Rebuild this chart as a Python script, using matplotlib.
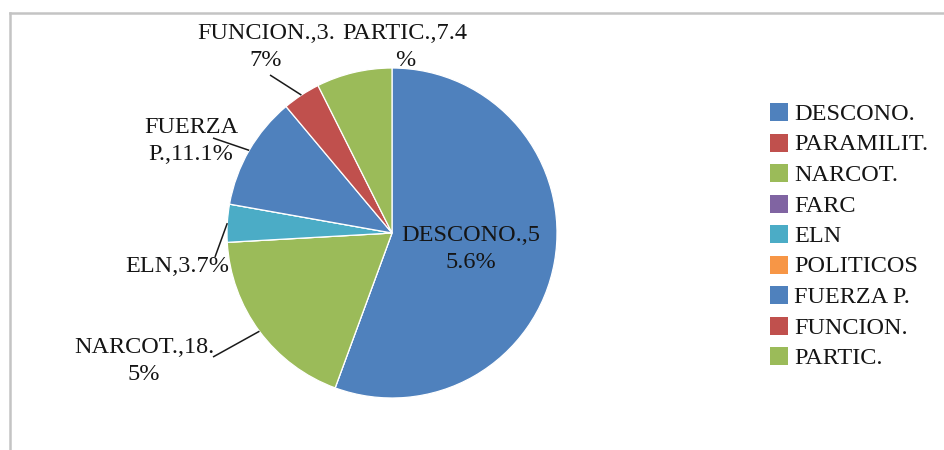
import matplotlib
matplotlib.use("Agg")
import matplotlib.pyplot as plt
from matplotlib.lines import Line2D
from matplotlib.patches import Rectangle
import numpy as np

# ---- data ----
categories = ["DESCONO.", "PARAMILIT.", "NARCOT.", "FARC", "ELN",
              "POLITICOS", "FUERZA P.", "FUNCION.", "PARTIC."]
values = [55.6, 0.0, 18.5, 0.0, 3.7, 0.0, 11.1, 3.7, 7.4]
colors = ["#4F81BD", "#C0504D", "#9BBB59", "#8064A2", "#4BACC6",
          "#F79646", "#4F81BD", "#C0504D", "#9BBB59"]

# ---- layout (pixels, y measured from top) ----
W, H = 945, 450
CX, CY, R = 392, 233, 165
# label: (category index, split position, text centre, leader anchor or None)
label_layout = [
    (0, 10, (471, 249), None),
    (2, 11, (144, 361), (213, 357)),
    (4, None, (177, 267), (215, 257)),
    (6, "space", (191, 141), (213, 138)),
    (7, 11, (266, 47), (270, 75)),
    (8, 11, (405, 47), None),
]

plt.rcParams["font.family"] = ["Liberation Serif", "DejaVu Serif"]
FS = 17.5
TXT = "#151515"

fig = plt.figure(figsize=(W / 100, H / 100), dpi=100)
ax = fig.add_axes([0, 0, 1, 1])

def fy(y):
    return H - y

wedges, _ = ax.pie(values, colors=colors, startangle=90, counterclock=False,
                   center=(CX, fy(CY)), radius=R, frame=True,
                   wedgeprops=dict(edgecolor="white", linewidth=0.9))
ax.set_xlim(0, W)
ax.set_ylim(0, H)
ax.set_aspect("auto")
ax.axis("off")

# data labels
total = sum(values)
for idx, split, (tx, ty), anchor in label_layout:
    txt = f"{categories[idx]},{values[idx] / total * 100:.1f}%"
    if split == "space":
        txt = txt.replace(" ", "\n", 1)
    elif split is not None:
        txt = txt[:split] + "\n" + txt[split:]
    ax.text(tx, fy(ty), txt, ha="center", va="center", fontsize=FS,
            color=TXT, linespacing=1.4, multialignment="center")
    if anchor is not None:
        w = wedges[idx]
        mid = np.deg2rad((w.theta1 + w.theta2) / 2)
        px = CX + R * np.cos(mid)
        py = fy(CY) + R * np.sin(mid)
        ax.plot([anchor[0], px], [fy(anchor[1]), py], color="#1a1a1a",
                lw=1.1, solid_capstyle="butt")

# legend
LX, LY0, LDY, SQ = 770, 112, 30.5, 18
for i, (cat, col) in enumerate(zip(categories, colors)):
    yc = LY0 + i * LDY
    ax.add_patch(Rectangle((LX, fy(yc) - SQ / 2), SQ, SQ, facecolor=col,
                           edgecolor="none"))
    ax.text(LX + SQ + 6, fy(yc), cat, ha="left", va="center_baseline",
            fontsize=FS, color=TXT)

# chart-area border (partially visible)
ax.add_line(Line2D([10, W], [fy(13), fy(13)], color="#c4c4c4", lw=1.8))
ax.add_line(Line2D([10, 10], [fy(13), 0], color="#c4c4c4", lw=1.8))

fig.savefig("out.png", dpi=100, facecolor="white")
